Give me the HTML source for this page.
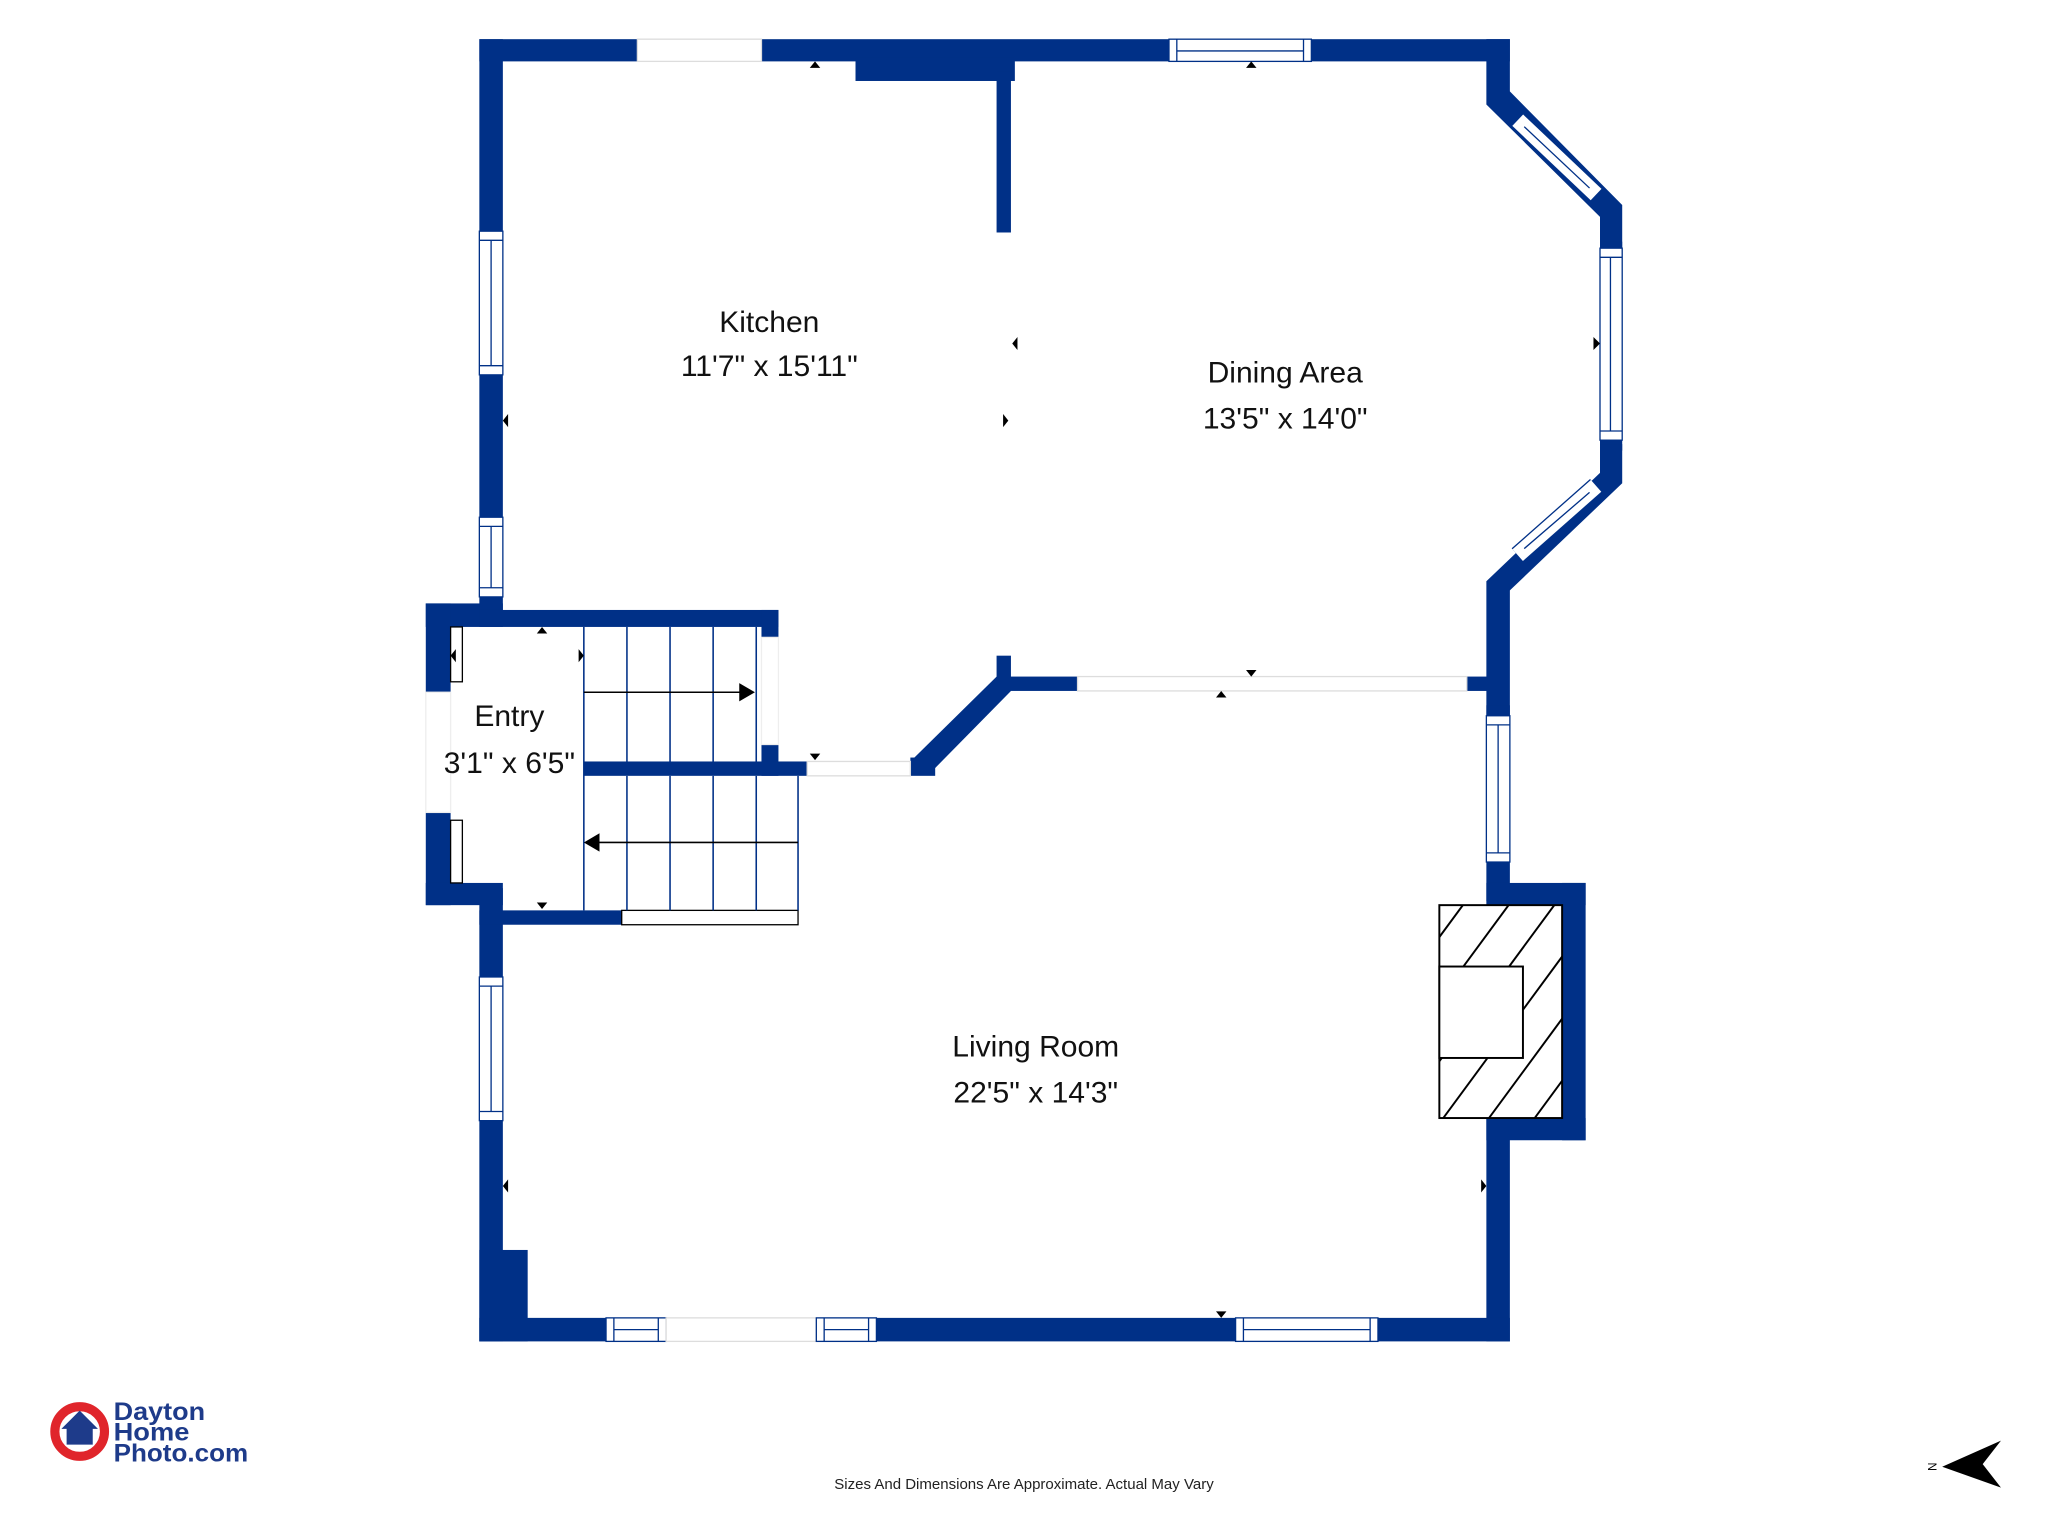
<!DOCTYPE html>
<html><head><meta charset="utf-8"><style>
html,body{margin:0;padding:0;background:#fff;}
svg{display:block;}
text{font-family:"Liberation Sans",sans-serif;}
</style></head><body>
<svg width="2048" height="1536" viewBox="0 0 1568 1176" xmlns="http://www.w3.org/2000/svg">
<defs><clipPath id="fp"><rect x="1102" y="693" width="94" height="163"/></clipPath></defs>
<rect width="1568" height="1176" fill="#fff"/>
<g fill="#003087">
<rect x="367" y="30" width="789" height="17"/>
<rect x="655" y="44" width="122" height="18"/>
<rect x="763" y="55" width="11" height="123"/>
<rect x="763" y="502" width="11" height="18"/>
<rect x="367" y="30" width="18" height="440"/>
<polygon points="1138,30 1156,30 1156,70 1242,157 1242,192 1225,192 1225,166 1138,80"/>
<rect x="1225" y="185" width="17" height="160"/>
<polygon points="1225,340 1242,340 1242,370 1156,452 1156,560 1138,560 1138,445 1225,362"/>
<rect x="1138" y="540" width="18" height="150"/>
<rect x="1138" y="676" width="76" height="17"/>
<rect x="1196" y="676" width="18" height="197"/>
<rect x="1138" y="856" width="76" height="17"/>
<rect x="1138" y="856" width="18" height="171"/>
<rect x="367" y="1009" width="789" height="18"/>
<rect x="367" y="957" width="37" height="70"/>
<rect x="367" y="680" width="18" height="347"/>
<rect x="326" y="462" width="59" height="18"/>
<rect x="326" y="462" width="19" height="231"/>
<rect x="326" y="676" width="59" height="17"/>
<rect x="367" y="467" width="229" height="13"/>
<rect x="583" y="467" width="13" height="21"/>
<rect x="583" y="570" width="13" height="24"/>
<rect x="447" y="583" width="171" height="11"/>
<rect x="697" y="580" width="19" height="14"/>
<polygon points="697,583 763,518 774,518 774,529 716,588 705,588"/>
<rect x="763" y="518" width="62" height="11"/>
<rect x="1123" y="518" width="17" height="11"/>
<rect x="367" y="697" width="109" height="11"/>
</g>
<g fill="#fff" stroke="#003087" stroke-width="1">
<rect x="488" y="30" width="95" height="17" stroke="#ddd"/>
<rect x="895" y="30" width="109" height="17"/>
<line x1="901" y1="30" x2="901" y2="47"/><line x1="998" y1="30" x2="998" y2="47"/><line x1="901" y1="39" x2="998" y2="39"/>
<rect x="367" y="177" width="18" height="110"/>
<line x1="367" y1="184" x2="385" y2="184"/><line x1="367" y1="280" x2="385" y2="280"/><line x1="376" y1="184" x2="376" y2="280"/>
<rect x="367" y="396" width="18" height="61"/>
<line x1="367" y1="403" x2="385" y2="403"/><line x1="367" y1="450" x2="385" y2="450"/><line x1="376" y1="403" x2="376" y2="450"/>
<rect x="1225" y="190" width="17" height="147"/>
<line x1="1225" y1="197" x2="1242" y2="197"/><line x1="1225" y1="330" x2="1242" y2="330"/><line x1="1233" y1="197" x2="1233" y2="330"/>
<rect x="1138" y="548" width="18" height="112"/>
<line x1="1138" y1="555" x2="1156" y2="555"/><line x1="1138" y1="653" x2="1156" y2="653"/><line x1="1147" y1="555" x2="1147" y2="653"/>
<rect x="367" y="748" width="18" height="110"/>
<line x1="367" y1="755" x2="385" y2="755"/><line x1="367" y1="851" x2="385" y2="851"/><line x1="376" y1="755" x2="376" y2="851"/>
<rect x="464" y="1009" width="46" height="18"/>
<line x1="470" y1="1009" x2="470" y2="1027"/><line x1="504" y1="1009" x2="504" y2="1027"/><line x1="470" y1="1018" x2="504" y2="1018"/>
<rect x="510" y="1009" width="115" height="18" stroke="#ddd"/>
<rect x="625" y="1009" width="46" height="18"/>
<line x1="631" y1="1009" x2="631" y2="1027"/><line x1="665" y1="1009" x2="665" y2="1027"/><line x1="631" y1="1018" x2="665" y2="1018"/>
<rect x="946" y="1009" width="109" height="18"/>
<line x1="952" y1="1009" x2="952" y2="1027"/><line x1="1049" y1="1009" x2="1049" y2="1027"/><line x1="952" y1="1018" x2="1049" y2="1018"/>
<rect x="618" y="583" width="79" height="11" stroke="#ddd"/>
<rect x="825" y="518" width="298" height="11" stroke="#ddd"/>
<rect x="583" y="488" width="13" height="82" stroke="#eee"/>
<rect x="326" y="530" width="19" height="92" stroke="#eee"/>
<rect x="476" y="697" width="135" height="11" stroke="#000"/>
<rect x="345" y="480" width="9" height="42" stroke="#000"/>
<rect x="345" y="628" width="9" height="48" stroke="#000"/>
</g>
<g stroke-linecap="butt">
<line x1="1162" y1="92" x2="1222" y2="149" stroke="#003087" stroke-width="14"/>
<line x1="1162" y1="92" x2="1222" y2="149" stroke="#fff" stroke-width="12"/>
<line x1="1167" y1="97" x2="1217" y2="144" stroke="#003087" stroke-width="1"/>
<line x1="1162" y1="425" x2="1222" y2="372" stroke="#003087" stroke-width="14"/>
<line x1="1162" y1="425" x2="1222" y2="372" stroke="#fff" stroke-width="12"/>
<line x1="1167" y1="420" x2="1217" y2="377" stroke="#003087" stroke-width="1"/>
</g>
<g stroke="#003087" stroke-width="1.2" fill="none">
<line x1="447" y1="480" x2="447" y2="697"/>
<line x1="480" y1="480" x2="480" y2="583"/><line x1="513" y1="480" x2="513" y2="583"/><line x1="546" y1="480" x2="546" y2="583"/><line x1="579" y1="480" x2="579" y2="583"/>
<line x1="480" y1="594" x2="480" y2="697"/><line x1="513" y1="594" x2="513" y2="697"/><line x1="546" y1="594" x2="546" y2="697"/><line x1="579" y1="594" x2="579" y2="697"/><line x1="611" y1="594" x2="611" y2="697"/>
</g>
<g stroke="#000" stroke-width="1.2">
<line x1="447" y1="530" x2="570" y2="530"/>
<line x1="455" y1="645" x2="611" y2="645"/>
</g>
<polygon points="578,530 566,523 566,537" fill="#000"/>
<polygon points="447,645 459,638 459,652" fill="#000"/>
<g stroke="#000" stroke-width="1.5" clip-path="url(#fp)">
<line x1="1000" y1="856" x2="1120" y2="693"/>
<line x1="1035" y1="856" x2="1155" y2="693"/>
<line x1="1070" y1="856" x2="1190" y2="693"/>
<line x1="1105" y1="856" x2="1225" y2="693"/>
<line x1="1140" y1="856" x2="1260" y2="693"/>
<line x1="1175" y1="856" x2="1295" y2="693"/>
</g>
<rect x="1102" y="693" width="94" height="163" fill="none" stroke="#000" stroke-width="1.5"/>
<rect x="1102" y="740" width="64" height="70" fill="#fff" stroke="#000" stroke-width="1.5"/>
<g fill="#000">
<polygon points="624,47 620,52 628,52"/><polygon points="958,47 954,52 962,52"/>
<polygon points="775,263 779,258 779,268"/><polygon points="772,322 768,317 768,327"/>
<polygon points="385,322 389,317 389,327"/><polygon points="1225,263 1220,258 1220,268"/>
<polygon points="415,480 411,485 419,485"/><polygon points="415,696 411,691 419,691"/>
<polygon points="447,502 443,497 443,507"/><polygon points="345,502 349,497 349,507"/>
<polygon points="624,582 620,577 628,577"/>
<polygon points="958,518 954,513 962,513"/><polygon points="935,529 931,534 939,534"/>
<polygon points="385,908 389,903 389,913"/><polygon points="1138,908 1134,903 1134,913"/>
<polygon points="935,1009 931,1004 939,1004"/>
</g>
<g fill="#111" text-anchor="middle" font-size="23">
<text x="589" y="254">Kitchen</text><text x="589" y="288">11'7" x 15'11"</text>
<text x="984" y="293">Dining Area</text><text x="984" y="328">13'5" x 14'0"</text>
<text x="390" y="556">Entry</text><text x="390" y="592">3'1" x 6'5"</text>
<text x="793" y="809">Living Room</text><text x="793" y="844">22'5" x 14'3"</text>
</g>
<text x="784" y="1140" font-size="11.5" fill="#222" text-anchor="middle">Sizes And Dimensions Are Approximate. Actual May Vary</text>
<circle cx="61" cy="1096" r="19" fill="#fff" stroke="#e0252b" stroke-width="7"/>
<polygon points="61,1080 47,1094 51,1094 51,1106 71,1106 71,1094 75,1094" fill="#1e3b8a"/>
<g fill="#1e3b8a" font-weight="bold" font-size="19">
<text x="87" y="1087" textLength="70" lengthAdjust="spacingAndGlyphs">Dayton</text>
<text x="87" y="1103" textLength="58" lengthAdjust="spacingAndGlyphs">Home</text>
<text x="87" y="1119" textLength="103" lengthAdjust="spacingAndGlyphs">Photo.com</text>
</g>
<polygon points="1487,1123 1532,1103 1518,1121 1532,1139" fill="#000"/>
<text x="1476" y="1123" font-size="9" fill="#000" transform="rotate(90 1476 1123)" text-anchor="middle">N</text>
</svg>
</body></html>
